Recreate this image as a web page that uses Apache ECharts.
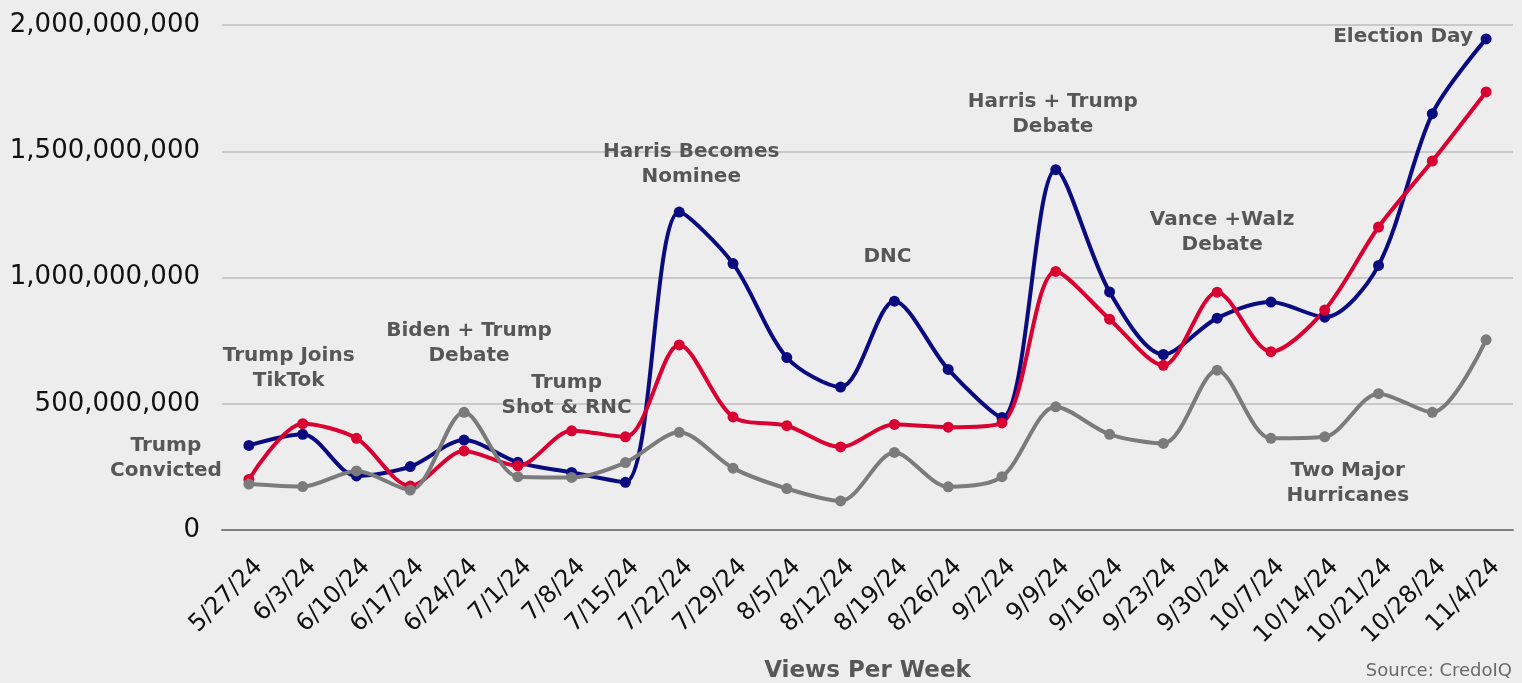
<!DOCTYPE html>
<html>
<head>
<meta charset="utf-8">
<script src="https://cdn.jsdelivr.net/npm/echarts@6/dist/echarts.min.js"></script>
<style>
  html, body { margin: 0; padding: 0; background: #ededed; }
  #chart { width: 1522px; height: 683px; }
</style>
</head>
<body>
<div id="chart"></div>
<script>
// Weekly views, 2024 election season
const weeks = ['5/27/24','6/3/24','6/10/24','6/17/24','6/24/24','7/1/24','7/8/24','7/15/24',
  '7/22/24','7/29/24','8/5/24','8/12/24','8/19/24','8/26/24','9/2/24','9/9/24','9/16/24',
  '9/23/24','9/30/24','10/7/24','10/14/24','10/21/24','10/28/24','11/4/24'];

const blueViews = [335e6, 379e6, 214e6, 251e6, 356e6, 268e6, 228e6, 189e6,
  1259e6, 1055e6, 683e6, 566e6, 906e6, 636e6, 446e6, 1427e6, 943e6,
  695e6, 839e6, 903e6, 843e6, 1048e6, 1649e6, 1945e6];

const redViews = [200e6, 421e6, 363e6, 174e6, 313e6, 254e6, 393e6, 369e6,
  733e6, 448e6, 413e6, 329e6, 418e6, 407e6, 424e6, 1024e6, 835e6,
  652e6, 942e6, 706e6, 871e6, 1200e6, 1461e6, 1735e6];

const greyViews = [182e6, 172e6, 234e6, 158e6, 466e6, 211e6, 208e6, 267e6,
  387e6, 245e6, 164e6, 115e6, 307e6, 171e6, 211e6, 488e6, 379e6,
  343e6, 633e6, 363e6, 369e6, 540e6, 466e6, 753e6];

const yTicks = { min: 0, max: 2000000000, interval: 500000000 };

// Event notes: label text, anchor week, height on the value axis, sideways nudge in px
const eventText = ['Trump\nConvicted', 'Trump Joins\nTikTok', 'Biden + Trump\nDebate',
  'Trump\nShot & RNC', 'Harris Becomes\nNominee', 'DNC', 'Harris + Trump\nDebate',
  'Vance +Walz\nDebate', 'Election Day', 'Two Major\nHurricanes'];
const eventWeek = ['5/27/24', '6/3/24', '6/24/24', '7/8/24', '7/22/24', '8/19/24',
  '9/9/24', '9/30/24', '11/4/24', '10/14/24'];
const eventHeight = [285e6, 640e6, 741e6, 535e6, 1450e6, 1081e6, 1648e6, 1180e6, 1952e6, 186e6];
const eventNudge = [-83, -14, 5, -5, 12, -7, -3, 5, -83, 23];

const fontFamily = '"DejaVu Sans", sans-serif';
const colors = { blue: '#0b0b80', red: '#d90032', grey: '#7b7b7b', note: '#575757' };

function lineSeries(name, data, color) {
  return {
    name, type: 'line', data, smooth: 0.3,
    symbol: 'circle', symbolSize: 11,
    lineStyle: { color, width: 4 },
    itemStyle: { color },
    z: 3
  };
}

const chart = echarts.init(document.getElementById('chart'), null, { renderer: 'canvas' });

chart.setOption({
  backgroundColor: '#ededed',
  animation: false,
  grid: [
    // plotting area
    { left: 222, right: 9, top: 25, bottom: 153, outerBoundsMode: 'none' },
    // same band layout, nudged right, carrying the date labels
    { left: 232, right: -1, top: 25, bottom: 153, outerBoundsMode: 'none' }
  ],
  xAxis: [{
    type: 'category', data: weeks, boundaryGap: true, gridIndex: 0,
    axisLine: { lineStyle: { color: '#7f7f7f', width: 2 } },
    axisTick: { show: false },
    axisLabel: { show: false },
    name: 'Views Per Week', nameLocation: 'middle', nameGap: 130,
    nameTextStyle: { color: colors.note, fontFamily, fontSize: 23, fontWeight: 'bold' }
  }, {
    type: 'category', data: weeks, boundaryGap: true, gridIndex: 1,
    axisLine: { show: false }, axisTick: { show: false },
    axisLabel: {
      rotate: 45, interval: 0, margin: 33, color: '#111',
      fontFamily, fontSize: 24
    }
  }],
  yAxis: [{
    type: 'value', min: yTicks.min, max: yTicks.max, interval: yTicks.interval, gridIndex: 0,
    axisLine: { show: false }, axisTick: { show: false },
    splitLine: { lineStyle: { color: '#bdbdbd', width: 1.5 } },
    axisLabel: {
      margin: 22, color: '#111', fontFamily, fontSize: 26,
      formatter: v => v.toLocaleString('en-US')
    }
  }, {
    type: 'value', min: yTicks.min, max: yTicks.max, gridIndex: 1, show: false
  }],
  series: [
    lineSeries('Blue', blueViews, colors.blue),
    lineSeries('Red', redViews, colors.red),
    lineSeries('Grey', greyViews, colors.grey),
    {
      name: 'Events', type: 'scatter', symbolSize: 0, silent: true, clip: false, z: 5,
      itemStyle: { opacity: 1 },
      data: eventText.map((t, i) => ({
        value: [eventWeek[i], eventHeight[i]],
        label: { offset: [eventNudge[i], 0] },
        name: t
      })),
      label: {
        show: true, position: 'inside', formatter: p => p.name,
        color: colors.note, textBorderWidth: 0, textBorderColor: 'transparent',
        fontFamily, fontSize: 20, fontWeight: 'bold',
        lineHeight: 25, align: 'center', verticalAlign: 'middle'
      }
    }
  ],
  graphic: [{
    type: 'text', right: 10, bottom: 3,
    style: { text: 'Source: CredoIQ', fill: '#6a6a6a', font: '18px ' + fontFamily }
  }]
});
</script>
</body>
</html>
